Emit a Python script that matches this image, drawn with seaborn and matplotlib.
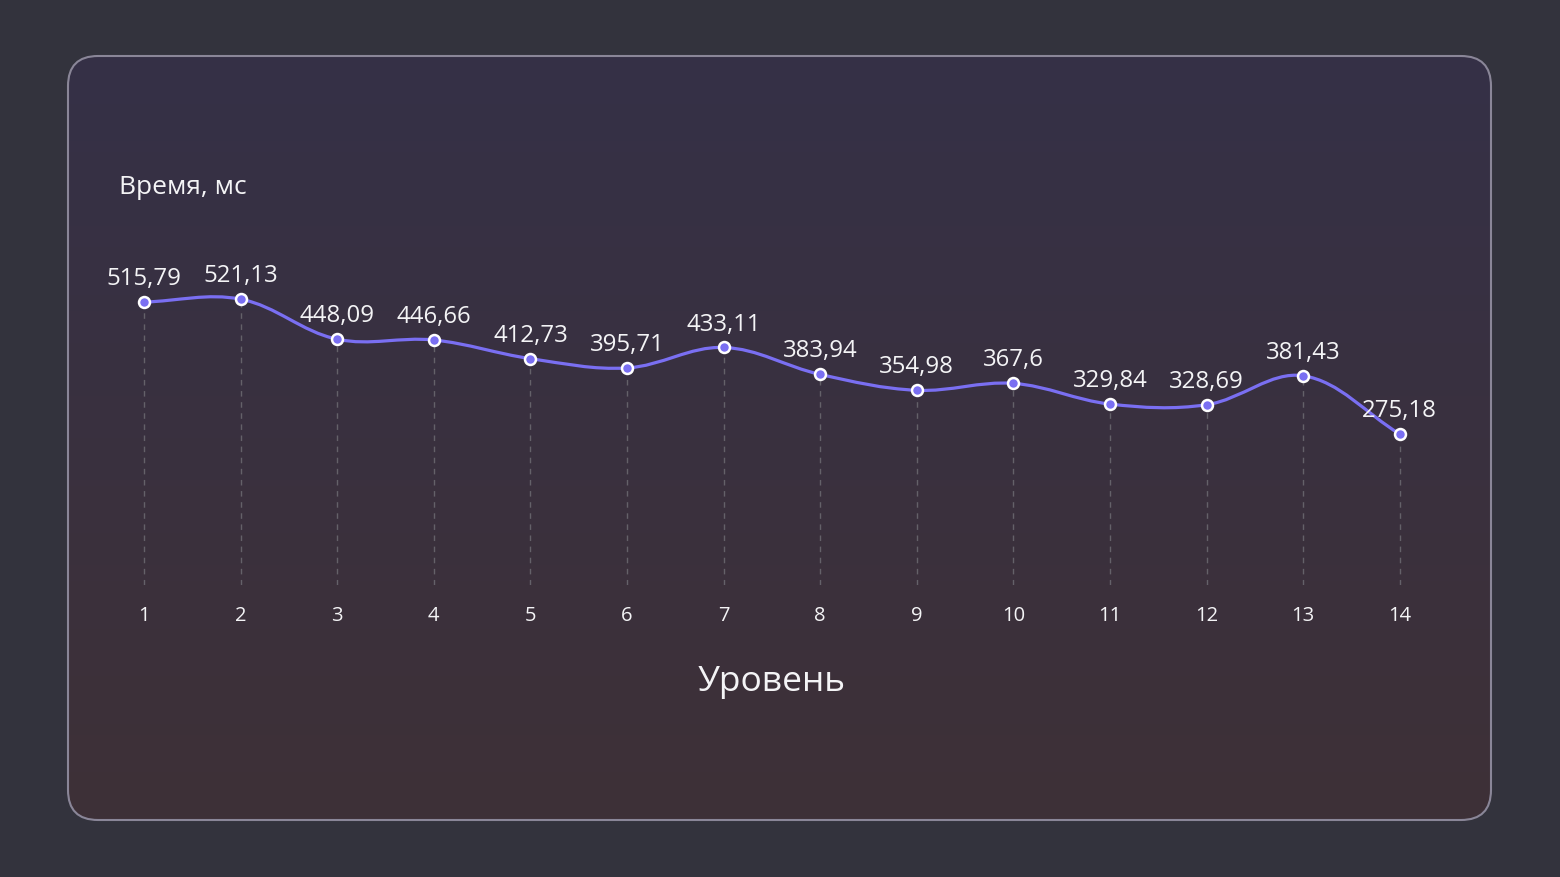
"""
Время прохождения уровней: сглаженная линия с подписями значений на тёмной карточке.
"""

import numpy as np
import matplotlib
matplotlib.use('Agg')
import matplotlib.pyplot as plt
import seaborn as sns
from matplotlib.patches import FancyBboxPatch, PathPatch
from matplotlib.path import Path
from matplotlib.transforms import IdentityTransform

# ---- данные ----
levels = [1, 2, 3, 4, 5, 6, 7, 8, 9, 10, 11, 12, 13, 14]
times_ms = [515.79, 521.13, 448.09, 446.66, 412.73, 395.71, 433.11,
            383.94, 354.98, 367.6, 329.84, 328.69, 381.43, 275.18]
y_title = 'Время, мс'
x_title = 'Уровень'

W, H, DPI = 1560, 877, 100
BG = '#33333d'
LINE = '#7a6ff2'
TXT = '#f4f4f6'

sns.set_theme(style='white')
plt.rcParams['font.family'] = ['Open Sans', 'DejaVu Sans']

fig = plt.figure(figsize=(W / DPI, H / DPI), dpi=DPI, facecolor=BG)

# фон-карточка (в пикселях)
bg = fig.add_axes([0, 0, 1, 1])
bg.set_xlim(0, W)
bg.set_ylim(H, 0)
bg.axis('off')
cx0, cy0, cx1, cy1 = 68, 56, 1491, 820
card = FancyBboxPatch((cx0, cy0), cx1 - cx0, cy1 - cy0,
                      boxstyle='round,pad=0,rounding_size=30',
                      facecolor='none', edgecolor='#8a8698', lw=1.5, zorder=3)
bg.add_patch(card)
top = np.array([0x35, 0x31, 0x47]) / 255
bot = np.array([0x3e, 0x30, 0x37]) / 255
t = np.linspace(0, 1, cy1 - cy0)[:, None]
grad = (top * (1 - t) + bot * t)[:, None, :]
im = bg.imshow(grad, extent=(cx0, cx1, cy1, cy0), aspect='auto', zorder=1,
               interpolation='nearest')
im.set_clip_path(card)

# основная область графика
px_per_lvl = 96.6
left_px = 144 - 0.5 * px_per_lvl
ax_w = 14 * px_per_lvl
y0_px, ytop_px = 585, 255.9
ax = fig.add_axes([left_px / W, 1 - y0_px / H, ax_w / W, (y0_px - ytop_px) / H])
ax.set_facecolor('none')
ax.set_xlim(0.5, 14.5)
ax.set_ylim(0, 600)
for s in ax.spines.values():
    s.set_visible(False)
ax.set_yticks([])
ax.set_xticks(levels)
ax.set_xticklabels([str(l) for l in levels])
ax.tick_params(axis='x', length=0, pad=15, labelsize=14.5, labelcolor=TXT)
ax.grid(False)

# пунктирные вертикали от оси до точки
ax.vlines(levels, 0, times_ms, colors='#646169', linestyles=(0, (4, 4)),
          linewidth=1, zorder=2)

# сглаженная кривая (кубические Безье, контрольные точки по соседям)
fig.canvas.draw()
pts = ax.transData.transform(np.column_stack([levels, times_ms]))
n = len(pts)
smooth = 0.36
cp_in, cp_out = [], []
for i in range(n):
    p = pts[i]
    prv = pts[i - 1] if i > 0 else p
    nxt = pts[i + 1] if i < n - 1 else p
    v = (nxt - prv) * smooth
    d0 = np.hypot(*(p - prv))
    d1 = np.hypot(*(nxt - p))
    s = d0 + d1
    r0, r1 = (d0 / s, d1 / s) if s else (0, 0)
    cp_in.append(p - v * r0)
    cp_out.append(p + v * r1)
verts = [pts[0]]
codes = [Path.MOVETO]
for i in range(n - 1):
    verts += [cp_out[i], cp_in[i + 1], pts[i + 1]]
    codes += [Path.CURVE4] * 3
curve = PathPatch(Path(verts, codes), transform=IdentityTransform(),
                  facecolor='none', edgecolor=LINE, lw=2.3, zorder=3,
                  capstyle='round', joinstyle='round')
ax.add_patch(curve)

sns.scatterplot(x=levels, y=times_ms, ax=ax, s=62, color=LINE,
                edgecolor='white', linewidth=1.8, zorder=4, clip_on=False)

# подписи значений
for lvl, v in zip(levels, times_ms):
    ax.annotate(f'{v:g}'.replace('.', ','), (lvl, v), xytext=(0, 16.5),
                textcoords='offset points', ha='center', va='center',
                fontsize=17.3, color=TXT, zorder=5)

fig.text(119 / W, 1 - 187 / H, y_title, ha='left', va='center',
         fontsize=19, color=TXT)
fig.text(772 / W, 1 - 682 / H, x_title, ha='center', va='center',
         fontsize=25.5, color=TXT)

fig.savefig('out.png', dpi=DPI, facecolor=BG)
